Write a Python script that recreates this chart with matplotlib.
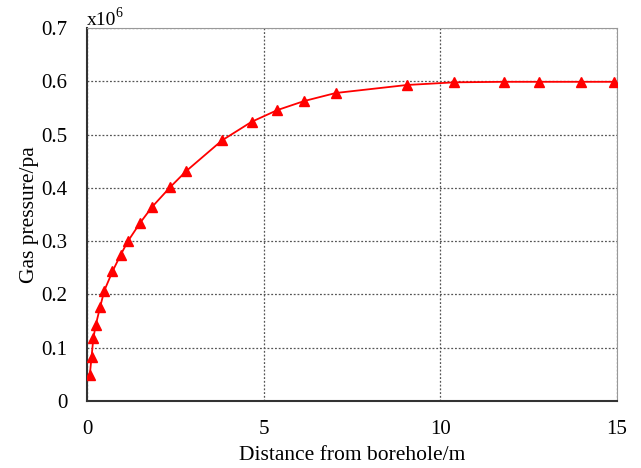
import matplotlib
matplotlib.use("Agg")
import matplotlib.pyplot as plt

plt.rcParams["font.family"] = ["Liberation Serif", "DejaVu Serif"]

# datos (presion en unidades de 1e6 Pa)
distancia = [0.08, 0.13, 0.18, 0.25, 0.37, 0.49, 0.72, 0.95, 1.16, 1.5, 1.84,
             2.35, 2.8, 3.82, 4.66, 5.39, 6.15, 7.04, 9.05, 10.39, 11.8, 12.8,
             13.98, 14.9]
presion = [0.049, 0.083, 0.118, 0.143, 0.176, 0.207, 0.243, 0.274, 0.300, 0.334,
           0.364, 0.401, 0.431, 0.489, 0.524, 0.546, 0.563, 0.578, 0.593, 0.598,
           0.599, 0.599, 0.599, 0.599]

fig = plt.figure(figsize=(6.41, 4.68), dpi=100)
ax = fig.add_axes([0.1357, 0.1432, 0.827, 0.797])

ax.plot(distancia, presion, color="red", lw=1.3, marker="^", markersize=7,
        zorder=3)

ax.set_xlim(0, 15)
ax.set_ylim(0, 0.7)
ax.set_xticks([0, 5, 10, 15])
ax.set_yticks([0, 0.1, 0.2, 0.3, 0.4, 0.5, 0.6, 0.7])
ax.set_yticklabels(["0", "0.1", "0.2", "0.3", "0.4", "0.5", "0.6", "0.7"])
ax.tick_params(length=0, labelsize=15, pad=14)
ax.grid(True, linestyle=(0, (1.5, 1.5)), color="#555555", linewidth=0.9)

ax.spines["left"].set_color("#333333")
ax.spines["bottom"].set_color("#333333")
ax.spines["left"].set_linewidth(1.5)
ax.spines["bottom"].set_linewidth(1.5)
ax.spines["top"].set_color("#999999")
ax.spines["right"].set_color("#999999")

ax.set_xlabel("Distance from borehole/m", fontsize=15.5, labelpad=5)
ax.set_ylabel("Gas pressure/pa", fontsize=15.5, labelpad=2)
# factor de escala arriba del eje
ax.text(0.0, 1.008, "x10", transform=ax.transAxes, fontsize=14,
        ha="left", va="baseline")
ax.text(0.0535, 1.03, "6", transform=ax.transAxes, fontsize=10,
        ha="left", va="baseline")

fig.savefig("out.png", dpi=100)
